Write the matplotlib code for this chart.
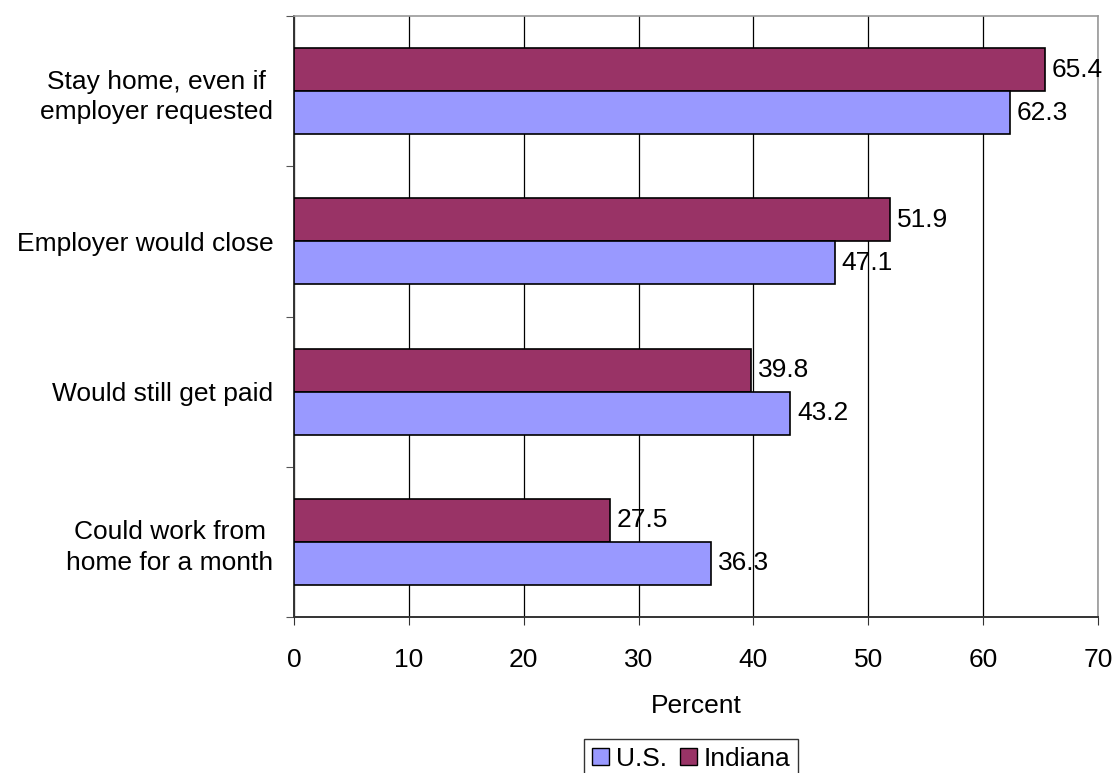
import matplotlib
matplotlib.use("Agg")
import matplotlib.pyplot as plt
import numpy as np
from matplotlib.patches import Patch

categories = ["Stay home, even if\nemployer requested", "Employer would close",
              "Would still get paid", "Could work from\nhome for a month"]
us = [62.3, 47.1, 43.2, 36.3]
indiana = [65.4, 51.9, 39.8, 27.5]
xticks = [0, 10, 20, 30, 40, 50, 60, 70]

plt.rcParams['font.family'] = ['Liberation Sans', 'DejaVu Sans']
fs = 19

fig = plt.figure(figsize=(11.15, 7.73), dpi=100)
ax = fig.add_axes([294/1115, 1-617/773, (1098-294)/1115, (617-16)/773])

n = len(categories)
ypos = np.arange(n)[::-1]  # top category has largest y
h = 0.286
bi = ax.barh(ypos + h/2, indiana, height=h, color='#993366', edgecolor='black', linewidth=1.2, zorder=3)
bu = ax.barh(ypos - h/2, us, height=h, color='#9999FF', edgecolor='black', linewidth=1.2, zorder=3)

for bars, vals in ((bi, indiana), (bu, us)):
    for b, v in zip(bars, vals):
        ax.text(v + 0.6, b.get_y() + b.get_height()/2, f"{v:.1f}", va='center', ha='left',
                fontsize=fs, zorder=4)

ax.set_xlim(0, 70)
ax.set_ylim(-0.5, n - 0.5)
ax.set_xticks(xticks)
ax.set_xticklabels([str(t) for t in xticks], fontsize=fs)
ax.set_yticks(np.arange(-0.5, n, 1.0))
ax.set_yticklabels([])
ax.set_yticks(ypos, minor=True)
ax.set_yticklabels(categories, minor=True, fontsize=fs, ha='right', multialignment='center')
for lab in ax.get_yticklabels(minor=True):
    lab.set_linespacing(1.33)
ax.tick_params(axis='y', which='minor', length=0, pad=15)
ax.tick_params(axis='y', which='major', direction='out', length=6, color='#555555')
ax.tick_params(axis='x', direction='out', length=6, pad=16, color='#333333')

ax.grid(axis='x', color='black', linewidth=0.9, zorder=0)
ax.set_axisbelow(True)
for s in ('top', 'right'):
    ax.spines[s].set_color('#999999')
    ax.spines[s].set_linewidth(1.2)
for s in ('left', 'bottom'):
    ax.spines[s].set_color('#333333')
    ax.spines[s].set_linewidth(1.4)

ax.set_xlabel("Percent", fontsize=fs, labelpad=16)

handles = [Patch(facecolor='#9999FF', edgecolor='black', label='U.S.'),
           Patch(facecolor='#993366', edgecolor='black', label='Indiana')]
leg = fig.legend(handles=handles, loc='upper center', bbox_to_anchor=(691/1115, 1-739/773), ncol=2,
                 fontsize=fs, frameon=True, fancybox=False, edgecolor='black',
                 handlelength=0.65, handleheight=0.65, handletextpad=0.25, columnspacing=0.5,
                 borderpad=0.3, borderaxespad=0)
leg.get_frame().set_linewidth(1)

fig.savefig("out.png", dpi=100)
